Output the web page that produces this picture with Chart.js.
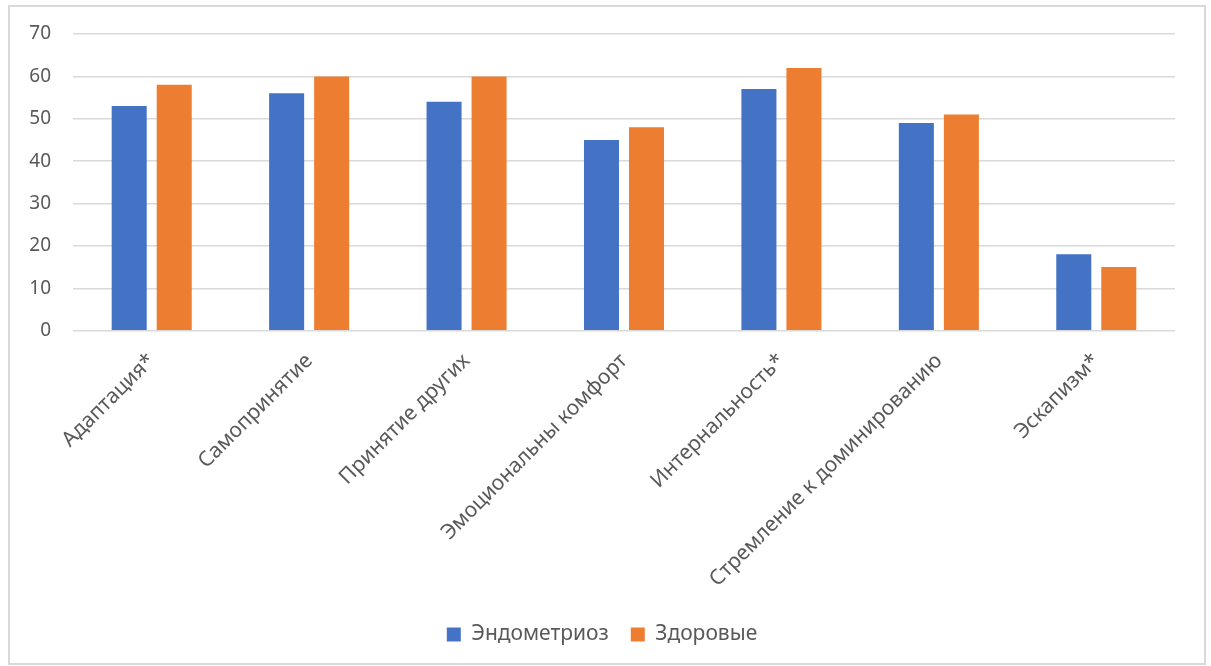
<!DOCTYPE html>
<html>
<head>
<meta charset="utf-8">
<script src="https://cdn.jsdelivr.net/npm/chart.js@4/dist/chart.umd.min.js"></script>
<style>
    html, body { margin: 0; padding: 0; background: #fff; }
    .frame {
        position: absolute;
        left: 8px; top: 5px;
        width: 1198px; height: 660px;
        border: 2px solid #d9d9d9;
        box-sizing: border-box;
    }
    canvas { display: block; }
</style>
</head>
<body>
<div class="frame"><canvas id="chart"></canvas></div>
<script>
const categories = [
    'Адаптация*',
    'Самопринятие',
    'Принятие других',
    'Эмоциональны комфорт',
    'Интернальность*',
    'Стремление к доминированию',
    'Эскапизм*',
];
const endometriosis = [53, 56, 54, 45, 57, 49, 18];
const healthy = [58, 60, 60, 48, 62, 51, 15];
const yTicks = [0, 10, 20, 30, 40, 50, 60, 70];

const textColor = '#595959';
const gridColor = '#d9d9d9';
const fontFamily = "'Noto Sans', 'Open Sans', sans-serif";

const canvas = document.getElementById('chart');
canvas.width = 1194;
canvas.height = 656;

new Chart(canvas.getContext('2d'), {
    type: 'bar',
    data: {
        labels: categories,
        datasets: [
            {
                label: 'Эндометриоз',
                data: endometriosis,
                backgroundColor: '#4472c4',
                borderWidth: 0,
            },
            {
                label: 'Здоровые',
                data: healthy,
                backgroundColor: '#ed7d31',
                borderWidth: 0,
            },
        ],
    },
    options: {
        responsive: false,
        animation: false,
        layout: {
            padding: { left: 19, right: 29, top: 27, bottom: 8 },
        },
        datasets: {
            bar: { categoryPercentage: 0.572, barPercentage: 0.778 },
        },
        scales: {
            x: {
                grid: { display: false },
                border: { display: false },
                // let the first rotated label hang left of the plot, as in the original
                afterFit: (scale) => {
                    scale.paddingLeft = 0;
                    scale.paddingRight = 0;
                },
                ticks: {
                    color: textColor,
                    font: { family: fontFamily, size: 21 },
                    minRotation: 45,
                    maxRotation: 45,
                    autoSkip: false,
                    padding: 10,
                },
            },
            y: {
                min: 0,
                max: 70,
                afterBuildTicks: (axis) => {
                    axis.ticks = yTicks.map((v) => ({ value: v }));
                },
                afterFit: (scale) => {
                    scale.width = 44;
                    scale.paddingTop = 0;
                    scale.paddingBottom = 0;
                },
                grid: { color: gridColor, lineWidth: 1.5, drawTicks: false },
                border: { display: false },
                ticks: {
                    color: textColor,
                    font: { family: fontFamily, size: 19 },
                    padding: 22,
                },
            },
        },
        plugins: {
            legend: {
                position: 'bottom',
                labels: {
                    color: textColor,
                    font: { family: fontFamily, size: 21 },
                    boxWidth: 14,
                    boxHeight: 14,
                    padding: 22,
                },
            },
            tooltip: { enabled: false },
        },
    },
});
</script>
</body>
</html>
